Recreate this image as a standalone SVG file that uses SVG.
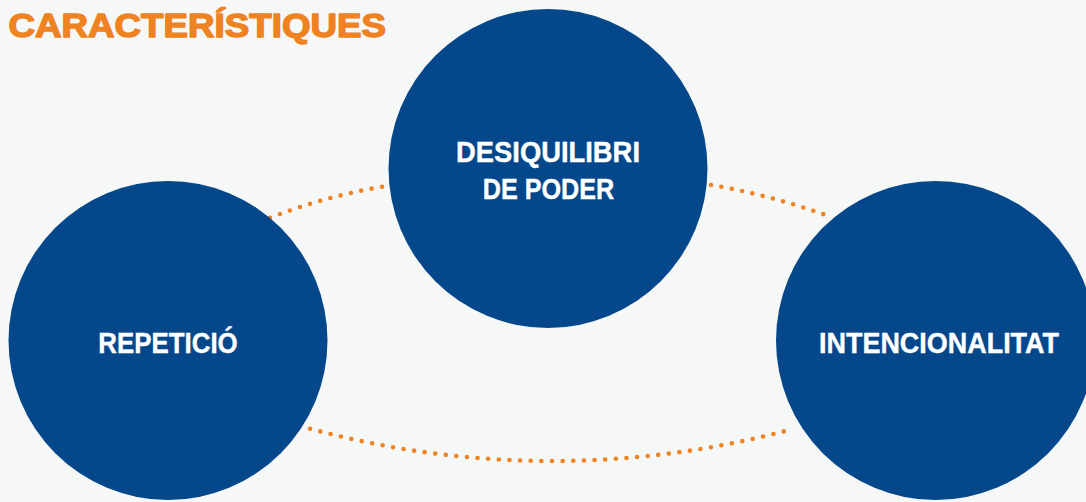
<svg xmlns="http://www.w3.org/2000/svg" width="1086" height="502" viewBox="0 0 1086 502">
  <style>
    .bg { fill: #f6f8f8; }
    .node circle { fill: #04478a; }
    .label { fill: #ffffff; stroke: #ffffff; stroke-width: 0.4; font-family: "Liberation Sans", Arial, sans-serif; font-weight: bold; font-size: 29px; text-anchor: middle; }
    .title { fill: #ef8221; stroke: #ef8221; stroke-width: 1.4; stroke-linejoin: round; font-family: "Liberation Sans", Arial, sans-serif; font-weight: bold; font-size: 33px; }
    .dots { fill: none; stroke: #ef8221; stroke-width: 4.6; stroke-linecap: round; stroke-dasharray: 0 1; }
  </style>
  <rect class="bg" x="0" y="0" width="1086" height="502"/>
  <text class="title" x="8.5" y="37" textLength="377.5" lengthAdjust="spacingAndGlyphs">CARACTERÍSTIQUES</text>
  <g id="connectors">
    <path class="dots" pathLength="11" d="M 270 217.7 Q 325 196.5 382 186.7"/>
    <path class="dots" pathLength="12" d="M 711 185 Q 771 195 833.3 217.7"/>
    <path class="dots" pathLength="46" d="M 310 428.7 A 922.7 922.7 0 0 0 794 428.7"/>
  </g>
  <g id="node-repeticio" class="node">
    <circle cx="168" cy="340.5" r="159.5"/>
    <text class="label" x="168" y="352.7" textLength="139.4" lengthAdjust="spacingAndGlyphs">REPETICIÓ</text>
  </g>
  <g id="node-desequilibri" class="node">
    <circle cx="548" cy="168.5" r="159.5"/>
    <text class="label" x="548" y="161.7" textLength="184" lengthAdjust="spacingAndGlyphs">DESIQUILIBRI</text>
    <text class="label" x="548.5" y="199.3" textLength="131.6" lengthAdjust="spacingAndGlyphs">DE PODER</text>
  </g>
  <g id="node-intencionalitat" class="node">
    <circle cx="935.5" cy="340.5" r="159.5"/>
    <text class="label" x="939" y="353.3" textLength="240" lengthAdjust="spacingAndGlyphs">INTENCIONALITAT</text>
  </g>
</svg>
